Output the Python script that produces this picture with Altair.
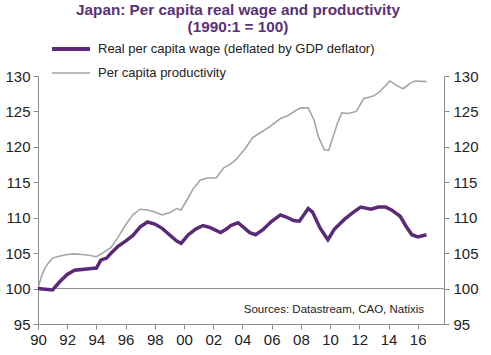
import altair as alt
import pandas as pd

prod_year = [1990.0, 1990.25, 1990.5, 1990.75, 1991.0, 1991.5, 1992.0, 1992.5, 1993.0, 1993.5,
             1994.0, 1994.5, 1995.0, 1995.5, 1996.0, 1996.5, 1997.0, 1997.5, 1998.0, 1998.5,
             1999.0, 1999.5, 1999.8, 2000.2, 2000.6, 2001.1, 2001.6, 2002.2, 2002.7, 2003.2,
             2003.6, 2004.2, 2004.7, 2005.3, 2005.9, 2006.6, 2007.1, 2007.7, 2008.0, 2008.5,
             2008.9, 2009.2, 2009.6, 2009.9, 2010.2, 2010.5, 2010.8, 2011.25, 2011.8, 2012.3,
             2013.0, 2013.4, 2014.1, 2014.6, 2015.0, 2015.5, 2015.8, 2016.6]
prod_val = [100.0, 101.8, 103.0, 103.7, 104.3, 104.6, 104.8, 104.9, 104.8, 104.7,
            104.5, 105.1, 105.8, 107.3, 109.0, 110.4, 111.2, 111.1, 110.8, 110.4,
            110.7, 111.3, 111.1, 112.5, 114.0, 115.3, 115.6, 115.6, 117.0, 117.6,
            118.3, 119.8, 121.3, 122.1, 122.9, 124.0, 124.4, 125.2, 125.5, 125.5,
            123.8, 121.4, 119.6, 119.5, 121.4, 123.3, 124.8, 124.7, 125.0, 126.8,
            127.2, 127.8, 129.3, 128.6, 128.2, 129.0, 129.3, 129.2]

wage_year = [1990.0, 1990.5, 1991.0, 1991.5, 1992.0, 1992.5, 1993.0, 1993.5, 1994.0, 1994.3,
             1994.7, 1995.0, 1995.5, 1996.0, 1996.5, 1997.0, 1997.5, 1998.0, 1998.5, 1999.0,
             1999.5, 1999.8, 2000.3, 2000.8, 2001.3, 2001.8, 2002.5, 2002.9, 2003.2, 2003.7,
             2004.1, 2004.5, 2004.9, 2005.4, 2006.0, 2006.6, 2007.0, 2007.5, 2007.9, 2008.5,
             2008.8, 2009.3, 2009.85, 2010.3, 2011.0, 2011.6, 2012.1, 2012.8, 2013.3, 2013.8,
             2014.2, 2014.8, 2015.2, 2015.6, 2016.0, 2016.6]
wage_val = [100.0, 99.9, 99.8, 101.0, 102.0, 102.6, 102.7, 102.8, 102.9, 104.0,
            104.3, 105.0, 106.0, 106.7, 107.5, 108.7, 109.4, 109.1, 108.5, 107.6,
            106.7, 106.4, 107.6, 108.4, 108.9, 108.6, 107.9, 108.4, 108.9, 109.3,
            108.6, 107.9, 107.6, 108.3, 109.5, 110.4, 110.1, 109.6, 109.5, 111.3,
            110.8, 108.6, 106.9, 108.4, 109.8, 110.8, 111.5, 111.2, 111.5, 111.5,
            111.1, 110.2, 108.8, 107.6, 107.3, 107.6]

y_ticks = [95, 100, 105, 110, 115, 120, 125, 130]
x_ticks = list(range(1990, 2017, 2))

prod = pd.DataFrame({"year": prod_year, "value": prod_val})
wage = pd.DataFrame({"year": wage_year, "value": wage_val})

FONT = "Liberation Sans"
PURPLE = "#5a2a78"
GRAY = "#a5a5a5"
AXIS = "#8c8c8c"

xscale = alt.Scale(domain=[1990, 2017.8], nice=False, zero=False)
yscale = alt.Scale(domain=[95, 130], nice=False, zero=False)

x_axis = alt.Axis(values=x_ticks, title=None, grid=False,
                  labelExpr="substring(toString(datum.value), 2, 4)",
                  labelFont=FONT, labelFontSize=15, labelColor="#222222",
                  domainColor=AXIS, tickColor=AXIS, tickSize=5, labelPadding=3,
                  labelFlush=False, labelOverlap=False, labelBound=False)
x_enc = alt.X("year:Q", scale=xscale, axis=x_axis)

left_axis = alt.Axis(values=y_ticks, title=None, grid=False, orient="left",
                     labelFont=FONT, labelFontSize=15, labelColor="#222222",
                     domainColor=AXIS, tickColor=AXIS, tickSize=5, labelPadding=3,
                     labelOverlap=False)
right_axis = alt.Axis(values=y_ticks, title=None, grid=False, orient="right",
                      labelFont=FONT, labelFontSize=15, labelColor="#222222",
                      domainColor=AXIS, tickColor=AXIS, tickSize=5, labelPadding=4,
                      labelOverlap=False)

prod_line = alt.Chart(prod).mark_line(color=GRAY, strokeWidth=1.6).encode(
    x=x_enc,
    y=alt.Y("value:Q", scale=yscale, axis=left_axis),
)
wage_line = alt.Chart(wage).mark_line(color=PURPLE, strokeWidth=3.5).encode(
    x=x_enc,
    y=alt.Y("value:Q", scale=yscale, axis=right_axis),
)

base_df = pd.DataFrame({"v": [100]})
base_rule = alt.Chart(base_df).mark_rule(color=AXIS, strokeWidth=1).encode(
    y=alt.Y("v:Q", scale=yscale, axis=None)
)

# manual legend
leg1_line = alt.Chart(base_df).mark_rule(color=PURPLE, strokeWidth=4).encode(
    x=alt.value(14), x2=alt.value(52), y=alt.value(-27))
leg2_line = alt.Chart(base_df).mark_rule(color=GRAY, strokeWidth=1.6).encode(
    x=alt.value(14), x2=alt.value(52), y=alt.value(-3))
leg1_text = alt.Chart(base_df).mark_text(
    text="Real per capita wage (deflated by GDP deflator)", align="left", baseline="middle",
    font=FONT, fontSize=13, color="#222222").encode(x=alt.value(60), y=alt.value(-27))
leg2_text = alt.Chart(base_df).mark_text(
    text="Per capita productivity", align="left", baseline="middle",
    font=FONT, fontSize=13, color="#222222").encode(x=alt.value(60), y=alt.value(-3))

src_text = alt.Chart(base_df).mark_text(
    text="Sources: Datastream, CAO, Natixis", align="right", baseline="alphabetic",
    font=FONT, fontSize=11.5, color="#222222").encode(x=alt.value(386), y=alt.value(237))

chart = alt.layer(
    base_rule, prod_line, wage_line, leg1_line, leg2_line, leg1_text, leg2_text, src_text
).resolve_scale(y="independent").properties(
    width=406, height=248,
    autosize=alt.AutoSizeParams(type="none"),
    padding={"left": 38, "top": 76, "right": 47, "bottom": 31},
    title=alt.TitleParams(
        text=["Japan: Per capita real wage and productivity", "(1990:1 = 100)"],
        anchor="middle", font=FONT, fontSize=15.3, fontWeight="bold", color="#5a3276",
        lineHeight=16.5, offset=8, dx=-3),
).configure_view(stroke=None)

chart.save("out.html", embed_options={"renderer": "svg", "actions": False})
